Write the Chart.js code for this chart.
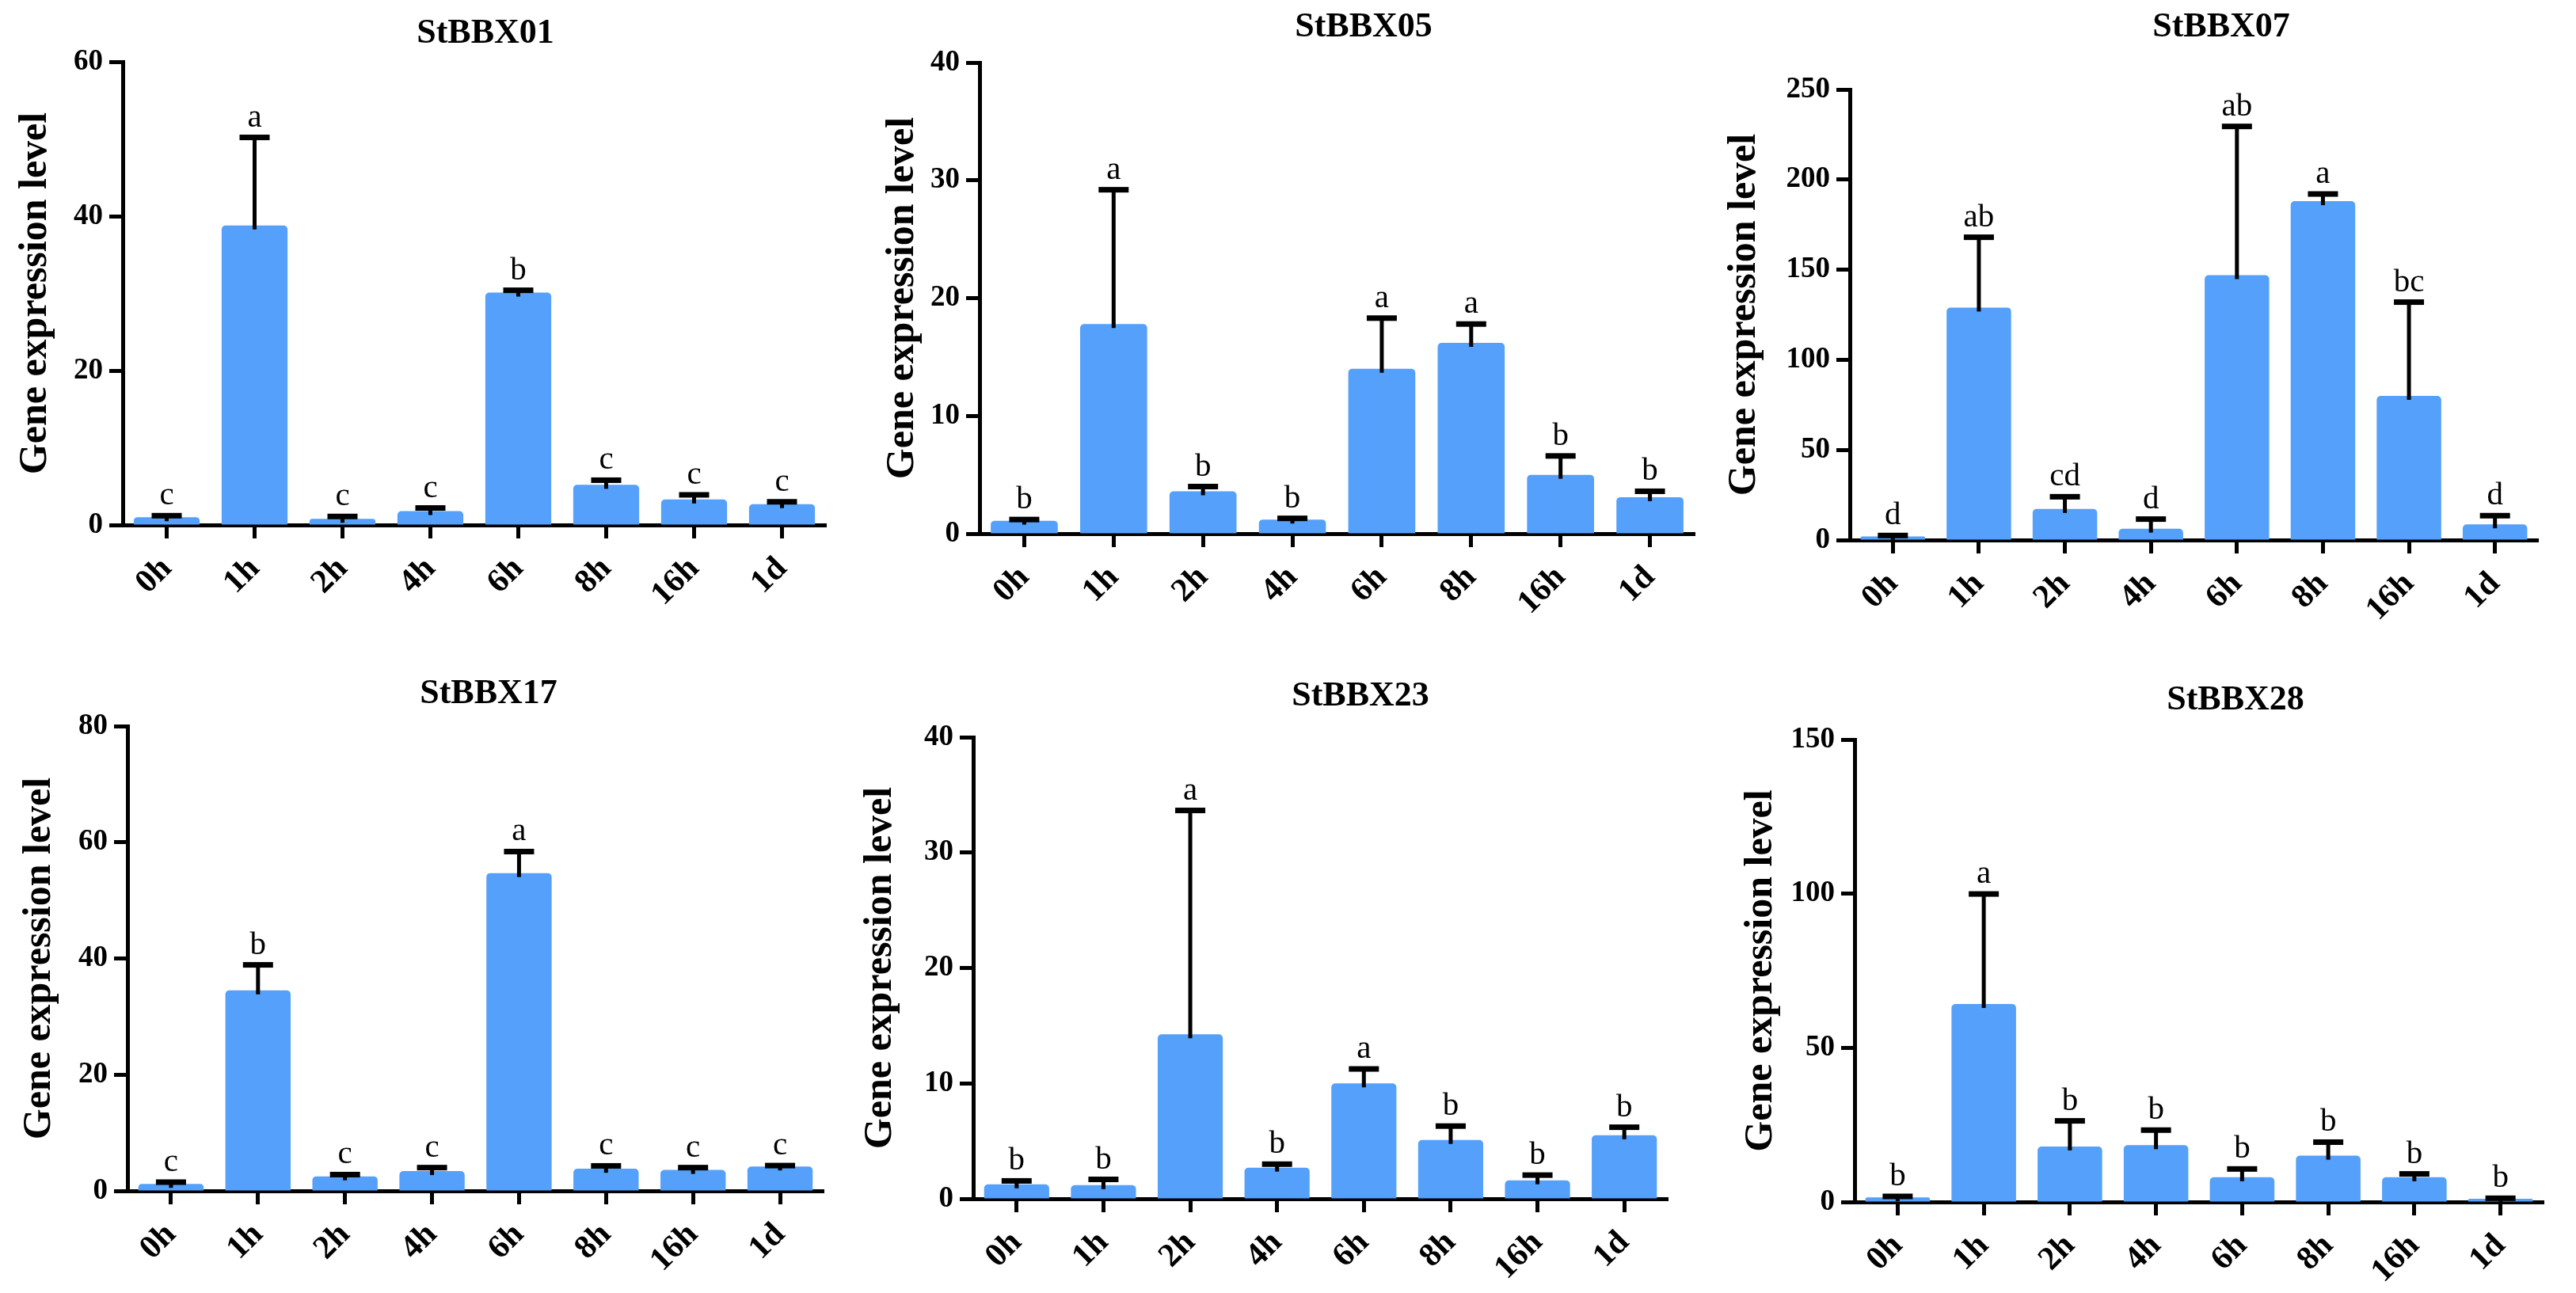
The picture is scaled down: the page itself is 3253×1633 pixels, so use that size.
<!DOCTYPE html>
<html>
<head>
<meta charset="utf-8">
<script src="https://cdn.jsdelivr.net/npm/chart.js@4.4.0/dist/chart.umd.min.js"></script>
<style>
  html, body { margin: 0; padding: 0; background: #fff; }
  #wrap { position: relative; width: 3253px; height: 1633px; overflow: hidden; }
  canvas { position: absolute; }
</style>
</head>
<body>
<div id="wrap"></div>
<script>
// time points after treatment, shared by every panel
const timePoints = ["0h", "1h", "2h", "4h", "6h", "8h", "16h", "1d"];
const genes = ["StBBX01", "StBBX05", "StBBX07", "StBBX17", "StBBX23", "StBBX28"];

// mean expression, error (SD) and significance letters per gene
const bbx01Mean = [1.0, 38.8, 0.8, 1.8, 30.1, 5.2, 3.3, 2.7];
const bbx01Err  = [0.2, 11.4, 0.3, 0.4, 0.3, 0.6, 0.6, 0.3];
const bbx01Sig  = ["c", "a", "c", "c", "b", "c", "c", "c"];

const bbx05Mean = [1.1, 17.8, 3.6, 1.2, 14.0, 16.2, 5.0, 3.1];
const bbx05Err  = [0.1, 11.4, 0.4, 0.1, 4.3, 1.6, 1.6, 0.5];
const bbx05Sig  = ["b", "a", "b", "b", "a", "a", "b", "b"];

const bbx07Mean = [2, 129, 17.2, 6.3, 147, 188, 80, 8.7];
const bbx07Err  = [0.5, 39, 6.8, 5.3, 82.5, 4, 52, 4.8];
const bbx07Sig  = ["d", "ab", "cd", "d", "ab", "a", "bc", "d"];

const bbx17Mean = [1.2, 34.5, 2.5, 3.4, 54.7, 3.8, 3.6, 4.2];
const bbx17Err  = [0.3, 4.4, 0.3, 0.6, 3.7, 0.5, 0.4, 0.15];
const bbx17Sig  = ["c", "b", "c", "c", "a", "c", "c", "c"];

const bbx23Mean = [1.25, 1.18, 14.25, 2.7, 10.0, 5.1, 1.6, 5.5];
const bbx23Err  = [0.3, 0.5, 19.4, 0.3, 1.25, 1.2, 0.45, 0.7];
const bbx23Sig  = ["b", "b", "a", "b", "a", "b", "b", "b"];

const bbx28Mean = [1.5, 64.2, 18.0, 18.4, 8.0, 15.0, 8.0, 1.0];
const bbx28Err  = [0.3, 35.7, 8.3, 4.9, 2.7, 4.4, 1.1, 0.2];
const bbx28Sig  = ["b", "a", "b", "b", "b", "b", "b", "b"];

// y axis range per panel
const yMax  = [60, 40, 250, 80, 40, 150];
const yStep = [20, 10, 50, 20, 10, 50];

const means   = [bbx01Mean, bbx05Mean, bbx07Mean, bbx17Mean, bbx23Mean, bbx28Mean];
const errors  = [bbx01Err, bbx05Err, bbx07Err, bbx17Err, bbx23Err, bbx28Err];
const letters = [bbx01Sig, bbx05Sig, bbx07Sig, bbx17Sig, bbx23Sig, bbx28Sig];

// where each panel sits on the page (plot area edges, title and axis title centres)
const panelBoxes = [
  { axis: 155,  top: 78,  right: 1043, zero: 663,  titleX: 613,  titleY: 43,  yTitleX: 45 },
  { axis: 1237, top: 79,  right: 2140, zero: 674,  titleX: 1722, titleY: 35,  yTitleX: 1140 },
  { axis: 2336, top: 113, right: 3205, zero: 682,  titleX: 2805, titleY: 35,  yTitleX: 2203 },
  { axis: 161,  top: 917, right: 1040, zero: 1504, titleX: 617,  titleY: 877, yTitleX: 50 },
  { axis: 1229, top: 931, right: 2106, zero: 1514, titleX: 1718, titleY: 880, yTitleX: 1112 },
  { axis: 2342, top: 934, right: 3212, zero: 1518, titleX: 2823, titleY: 885, yTitleX: 2224 }
];

const SERIF = "'Liberation Serif', 'Times New Roman', serif";
const BAR_BLUE = "#55A0FA";
const Y_TITLE_SIZE = 50;

// draws error bars, significance letters and the gene name
const annotate = {
  id: "annotate",
  afterDatasetsDraw(chart, args, opts) {
    const ctx = chart.ctx;
    const ys = chart.scales.y;
    const bars = chart.getDatasetMeta(0).data;
    ctx.save();
    bars.forEach((bar, i) => {
      const v = opts.mean[i];
      const e = opts.err[i];
      const yBar = ys.getPixelForValue(v);
      const yTop = ys.getPixelForValue(v + e);
      ctx.strokeStyle = "#000";
      ctx.lineWidth = 5;
      ctx.beginPath();
      ctx.moveTo(bar.x, yBar + 5);
      ctx.lineTo(bar.x, yTop);
      ctx.stroke();
      ctx.fillStyle = "#000";
      ctx.fillRect(bar.x - 19, yTop - 3.5, 38, 7);

      ctx.font = "41px " + SERIF;
      ctx.textAlign = "center";
      ctx.textBaseline = "alphabetic";
      ctx.fillText(opts.sig[i], bar.x, yTop - 14);
    });
    ctx.font = "bold 44px " + SERIF;
    ctx.textAlign = "center";
    ctx.textBaseline = "middle";
    ctx.fillText(opts.title, opts.titleX, opts.titleY);
    ctx.restore();
  }
};

const wrap = document.getElementById("wrap");

panelBoxes.forEach((box, k) => {
  const left = Math.round(box.yTitleX - (Y_TITLE_SIZE * 1.2) / 2 - 4);
  const top = box.titleY - 40;
  const width = box.right + 20 - left;
  const xh = 112;
  const height = box.zero + xh - top;
  const yw = box.axis - left;

  const canvas = document.createElement("canvas");
  canvas.width = width;
  canvas.height = height;
  canvas.style.left = left + "px";
  canvas.style.top = top + "px";
  canvas.style.width = width + "px";
  canvas.style.height = height + "px";
  wrap.appendChild(canvas);

  new Chart(canvas.getContext("2d"), {
    type: "bar",
    data: {
      labels: timePoints,
      datasets: [{
        data: means[k],
        backgroundColor: BAR_BLUE,
        borderWidth: 0,
        borderRadius: 5,
        barPercentage: 0.75,
        categoryPercentage: 1.0
      }]
    },
    options: {
      responsive: false,
      animation: false,
      devicePixelRatio: 1,
      layout: { padding: { top: box.top - top, right: 20, left: 0, bottom: 0 } },
      plugins: {
        legend: { display: false },
        tooltip: { enabled: false },
        annotate: {
          mean: means[k], err: errors[k], sig: letters[k], title: genes[k],
          titleX: box.titleX - left, titleY: box.titleY - top
        }
      },
      scales: {
        x: {
          offset: true,
          afterFit: s => { s.height = xh; },
          grid: { display: true, offset: false, drawOnChartArea: false, drawTicks: true,
                  tickLength: 17, tickWidth: 5, tickColor: "#000" },
          border: { display: true, width: 5, color: "#000" },
          ticks: {
            minRotation: 45, maxRotation: 45, padding: 14, color: "#000",
            font: { family: SERIF, size: 42, weight: "bold" }
          }
        },
        y: {
          min: 0, max: yMax[k],
          afterFit: s => { s.width = yw; },
          grid: { display: true, drawOnChartArea: false, drawTicks: true,
                  tickLength: 17, tickWidth: 5, tickColor: "#000" },
          border: { display: true, width: 5, color: "#000" },
          ticks: {
            stepSize: yStep[k], padding: 8, color: "#000",
            font: { family: SERIF, size: 37, weight: "bold" }
          },
          title: {
            display: true, text: "Gene expression level", color: "#000",
            font: { family: SERIF, size: Y_TITLE_SIZE, weight: "bold" }
          }
        }
      }
    },
    plugins: [annotate]
  });
});
</script>
</body>
</html>
